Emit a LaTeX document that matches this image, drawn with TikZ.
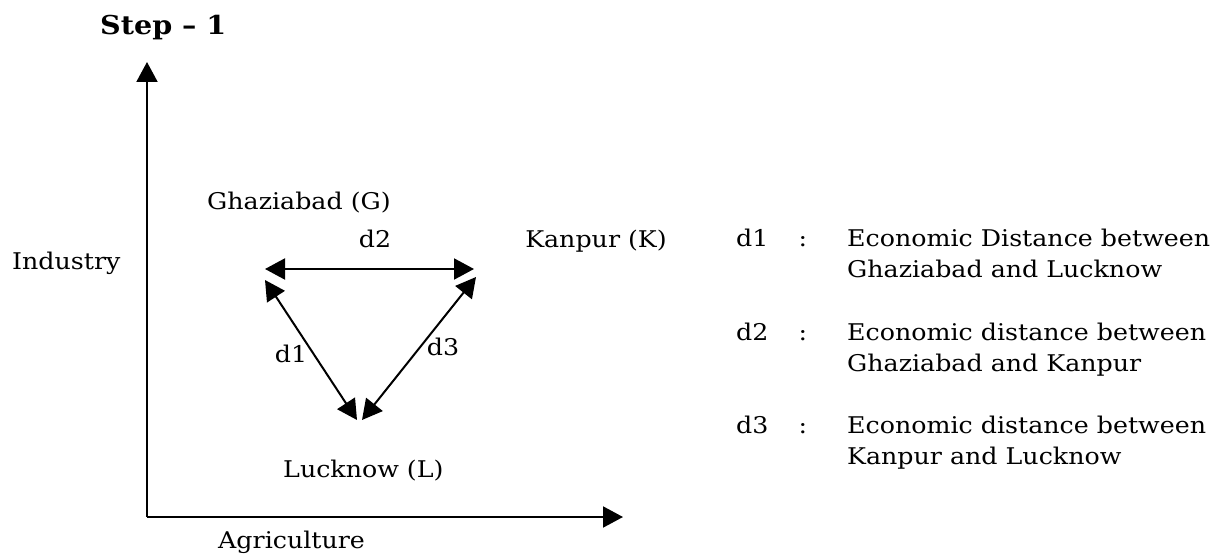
\documentclass[tikz,border=0pt]{standalone}
\usepackage{fontspec}
\setmainfont{DejaVu Serif}[FakeStretch=1.1]
\usetikzlibrary{arrows.meta}
\begin{document}
\begin{tikzpicture}[x=1pt,y=-1pt,
  lbl/.style={inner sep=0pt,font=\fontsize{23}{28}\selectfont},
  axis/.style={line width=2pt,-{Triangle[length=20pt,width=21pt]}},
  dist/.style={line width=2pt,{Triangle[length=20pt,width=21pt]}-{Triangle[length=20pt,width=21pt]}}]
  \useasboundingbox (0,0) rectangle (1219,556);
  % title
  \node[inner sep=0pt,anchor=base west,font=\fontsize{26}{31}\selectfont\bfseries] (title) at (100,35) {Step -- 1};
  % axes
  \coordinate (origin) at (147,517);
  \coordinate (ytop) at (147,62);
  \coordinate (xend) at (623,517);
  \draw[axis] (origin) -- (ytop);
  \draw[axis] (origin) -- (xend);
  \node[lbl,anchor=base west] (ylab) at (12,270) {Industry};
  \node[lbl,anchor=base west] (xlab) at (218,548) {Agriculture};
  % cities
  \node[lbl,anchor=base west] (G) at (207,210) {Ghaziabad (G)};
  \node[lbl,anchor=base east] (K) at (667,248) {Kanpur (K)};
  \node[lbl,anchor=base west] (L) at (283,477) {Lucknow (L)};
  % arrow end points
  \coordinate (g2) at (265,269);
  \coordinate (k2) at (474,269);
  \coordinate (g1) at (265,280);
  \coordinate (l1) at (357,420);
  \coordinate (k3) at (476,277);
  \coordinate (l3) at (362,420);
  \draw[dist] (g2) -- (k2);
  \draw[dist] (g1) -- (l1);
  \draw[dist] (k3) -- (l3);
  \node[lbl,anchor=base] (d2) at (375,248) {d2};
  \node[lbl,anchor=base] (d1) at (291,362) {d1};
  \node[lbl,anchor=base] (d3) at (443,355) {d3};
  % legend
  \node[lbl,anchor=base west] (k1) at (736,247) {d1};
  \node[lbl,anchor=base] (c1) at (803,247) {:};
  \node[lbl,anchor=base west] (t1a) at (847,247) {Economic Distance between};
  \node[lbl,anchor=base west] (t1b) at (847,278) {Ghaziabad and Lucknow};
  \node[lbl,anchor=base west] (kk2) at (736,340) {d2};
  \node[lbl,anchor=base] (c2) at (803,340) {:};
  \node[lbl,anchor=base west] (t2a) at (847,340) {Economic distance between};
  \node[lbl,anchor=base west] (t2b) at (847,371) {Ghaziabad and Kanpur};
  \node[lbl,anchor=base west] (kk3) at (736,433) {d3};
  \node[lbl,anchor=base] (c3) at (803,433) {:};
  \node[lbl,anchor=base west] (t3a) at (847,433) {Economic distance between};
  \node[lbl,anchor=base west] (t3b) at (847,464) {Kanpur and Lucknow};
\end{tikzpicture}
\end{document}
